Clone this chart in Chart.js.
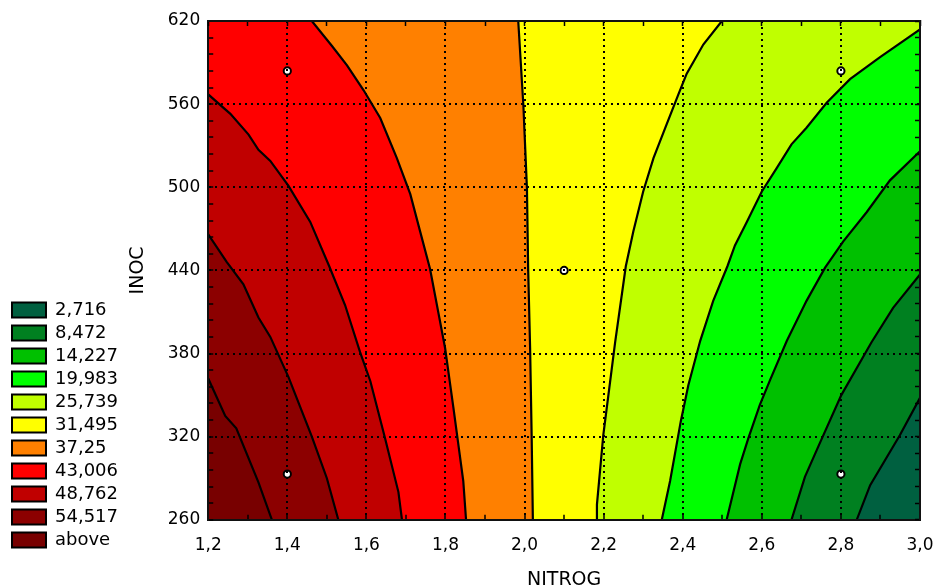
<!DOCTYPE html>
<html>
<head>
<meta charset="utf-8">
<script src="https://cdn.jsdelivr.net/npm/chart.js@4.4.1/dist/chart.umd.min.js"></script>
<style>
  html, body { margin: 0; padding: 0; background: #fff; }
</style>
</head>
<body>
<canvas id="myChart" width="937" height="588"></canvas>
<script>
// legend levels, lowest band first
const levels = ['2,716', '8,472', '14,227', '19,983', '25,739', '31,495', '37,25', '43,006', '48,762', '54,517', 'above'];
const bandColors = ['#006040', '#008020', '#00c000', '#00ff00', '#c0ff00', '#ffff00', '#ff8000', '#ff0000', '#c00000', '#8c0000', '#780000'];

// contour lines [NITROG, INOC], read from top to bottom
const iso2716 = [[3.0, 348], [2.949, 321], [2.874, 285], [2.84, 260]];
const iso8472 = [[3.0, 437], [2.932, 413], [2.877, 388], [2.801, 350], [2.743, 313], [2.709, 291], [2.675, 260]];
const iso14227 = [[3.0, 526], [2.924, 505], [2.865, 482], [2.806, 461], [2.76, 442], [2.713, 418], [2.663, 389],
  [2.621, 361], [2.595, 343], [2.566, 319], [2.545, 300], [2.511, 260]];
const iso19983 = [[3.0, 614], [2.899, 594], [2.823, 578], [2.764, 561], [2.713, 543], [2.675, 531], [2.638, 514],
  [2.6, 497], [2.562, 475], [2.532, 458], [2.513, 443], [2.477, 418], [2.444, 389], [2.414, 357], [2.395, 331],
  [2.368, 288], [2.347, 260]];
const iso25739 = [[2.499, 620], [2.452, 603], [2.41, 582], [2.389, 567], [2.356, 543], [2.326, 521], [2.3, 497],
  [2.275, 468], [2.256, 443], [2.229, 388], [2.199, 321], [2.183, 271], [2.183, 260]];
const iso31495 = [[1.984, 620], [1.997, 559], [2.006, 499], [2.009, 442], [2.014, 384], [2.018, 319], [2.021, 260]];
const iso3725 = [[1.462, 620], [1.513, 602], [1.551, 588], [1.593, 570], [1.635, 550], [1.677, 521], [1.711, 495],
  [1.736, 468], [1.761, 441], [1.799, 384], [1.82, 341], [1.845, 288], [1.852, 260]];
const iso43006 = [[1.2, 567], [1.256, 553], [1.302, 538], [1.327, 527], [1.357, 519], [1.403, 501], [1.458, 475],
  [1.506, 443], [1.546, 415], [1.584, 381], [1.61, 360], [1.647, 319], [1.681, 280], [1.69, 260]];
const iso48762 = [[1.2, 466], [1.247, 446], [1.289, 430], [1.327, 406], [1.357, 392], [1.403, 363], [1.462, 320],
  [1.5, 290], [1.529, 260]];
const iso54517 = [[1.2, 362], [1.243, 335], [1.271, 326], [1.327, 287], [1.361, 260]];

const contours = [iso2716, iso8472, iso14227, iso19983, iso25739, iso31495, iso3725, iso43006, iso48762, iso54517];

// design points
const designX = [1.4, 2.8, 2.1, 1.4, 2.8];
const designY = [584, 584, 440, 293, 293];

// axes
const xMajor = [1.2, 1.4, 1.6, 1.8, 2.0, 2.2, 2.4, 2.6, 2.8, 3.0];
const xLabels = ['1,2', '1,4', '1,6', '1,8', '2,0', '2,2', '2,4', '2,6', '2,8', '3,0'];
const xMinor = [1.2, 1.3, 1.4, 1.5, 1.6, 1.7, 1.8, 1.9, 2.0, 2.1, 2.2, 2.3, 2.4, 2.5, 2.6, 2.7, 2.8, 2.9, 3.0];
const yMajor = [260, 320, 380, 440, 500, 560, 620];
const yLabels = ['260', '320', '380', '440', '500', '560', '620'];

const xMin = 1.2, xMax = 3.0, yMin = 260, yMax = 620;
const yMinor = [];
for (let v = yMin; v <= yMax; v += 12) yMinor.push(v);

const font = 'DejaVu Sans';
const toPts = line => line.map(([x, y]) => ({x, y}));

// region on the high side of a contour line, filled towards NITROG = 1.2
function fillShape(line) {
  const pts = toPts(line);
  if (pts[0].x === xMax && pts[0].y < yMax) pts.unshift({x: xMax, y: yMax});
  return pts;
}

const datasets = [];
datasets.push({
  data: [{x: xMax, y: yMax}, {x: xMax, y: yMin}],
  indexAxis: 'y', showLine: true, fill: {value: xMin},
  backgroundColor: bandColors[0], borderWidth: 0, pointRadius: 0, order: 60
});
contours.forEach((line, i) => {
  datasets.push({
    data: fillShape(line),
    indexAxis: 'y', showLine: true, fill: {value: xMin},
    backgroundColor: bandColors[i + 1], borderWidth: 0, pointRadius: 0, order: 50 - i
  });
});
contours.forEach(line => {
  datasets.push({
    data: toPts(line),
    showLine: true, fill: false, borderColor: '#000', borderWidth: 2.2,
    pointRadius: 0, order: 10
  });
});
datasets.push({
  data: designX.map((x, i) => ({x, y: designY[i]})),
  pointRadius: 3.6, pointBackgroundColor: '#fff', pointBorderColor: '#000',
  pointBorderWidth: 2, showLine: false, order: 0
});

const near = (list, v) => list.findIndex(m => Math.abs(m - v) < 1e-9);

const gridColor = (major, lo, hi) => ctx => {
  const v = ctx.tick ? ctx.tick.value : null;
  if (v === null || near(major, v) < 0 || v === lo || v === hi) return 'rgba(0,0,0,0)';
  return '#000';
};

const frame = {display: true, color: '#111', width: 2, dash: [2, 4], z: 1};

new Chart(document.getElementById('myChart'), {
  type: 'scatter',
  data: {datasets},
  options: {
    responsive: false,
    animation: false,
    events: [],
    layout: {padding: {left: 7, right: 17, top: 21, bottom: 34}},
    plugins: {
      tooltip: {enabled: false},
      legend: {
        position: 'left',
        align: 'end',
        onClick: null,
        labels: {
          boxWidth: 34,
          boxHeight: 15,
          padding: 5,
          color: '#000',
          font: {family: font, size: 18},
          generateLabels: () => levels.map((t, i) => ({
            text: t, fillStyle: bandColors[i], strokeStyle: '#000', lineWidth: 2, hidden: false
          }))
        }
      }
    },
    scales: {
      x: {
        type: 'linear', position: 'bottom', min: xMin, max: xMax,
        afterBuildTicks: s => { s.ticks = xMinor.map(v => ({value: v})); },
        afterFit: s => { s.paddingLeft = 14; s.paddingRight = 14; },
        ticks: {
          autoSkip: false, maxRotation: 0, minRotation: 0, padding: 21,
          color: '#000', font: {family: font, size: 17},
          callback: v => { const i = near(xMajor, v); return i < 0 ? '' : xLabels[i]; }
        },
        grid: {
          z: 1, lineWidth: 2, color: gridColor(xMajor, xMin, xMax),
          tickColor: '#000', tickWidth: 1.5, tickLength: -5, tickBorderDash: []
        },
        border: frame,
        title: {display: true, text: 'NITROG', color: '#000', font: {family: font, size: 19},
          padding: {top: -9, bottom: -37}}
      },
      y: {
        type: 'linear', position: 'left', min: yMin, max: yMax,
        afterBuildTicks: s => { s.ticks = yMinor.map(v => ({value: v})); },
        afterFit: s => { s.paddingTop = 10; s.paddingBottom = 10; },
        ticks: {
          autoSkip: false, padding: 13,
          color: '#000', font: {family: font, size: 17},
          callback: v => { const i = near(yMajor, v); return i < 0 ? '' : yLabels[i]; }
        },
        grid: {
          z: 1, lineWidth: 2, color: gridColor(yMajor, yMin, yMax),
          tickColor: '#000', tickWidth: 1.5, tickLength: -5, tickBorderDash: []
        },
        border: frame,
        title: {display: true, text: 'INOC', color: '#000', font: {family: font, size: 19},
          padding: {top: -1, bottom: 5}}
      },
      x2: {
        type: 'linear', position: 'top', min: xMin, max: xMax,
        afterBuildTicks: s => { s.ticks = xMinor.map(v => ({value: v})); },
        afterFit: s => { s.height = 0; },
        ticks: {display: false},
        grid: {z: 1, drawOnChartArea: false, tickColor: '#000', tickWidth: 1.5, tickLength: -5, tickBorderDash: []},
        border: frame
      },
      y2: {
        type: 'linear', position: 'right', min: yMin, max: yMax,
        afterBuildTicks: s => { s.ticks = yMinor.map(v => ({value: v})); },
        afterFit: s => { s.width = 0; },
        ticks: {display: false},
        grid: {z: 1, drawOnChartArea: false, tickColor: '#000', tickWidth: 1.5, tickLength: -5, tickBorderDash: []},
        border: frame
      }
    }
  }
});
</script>
</body>
</html>
